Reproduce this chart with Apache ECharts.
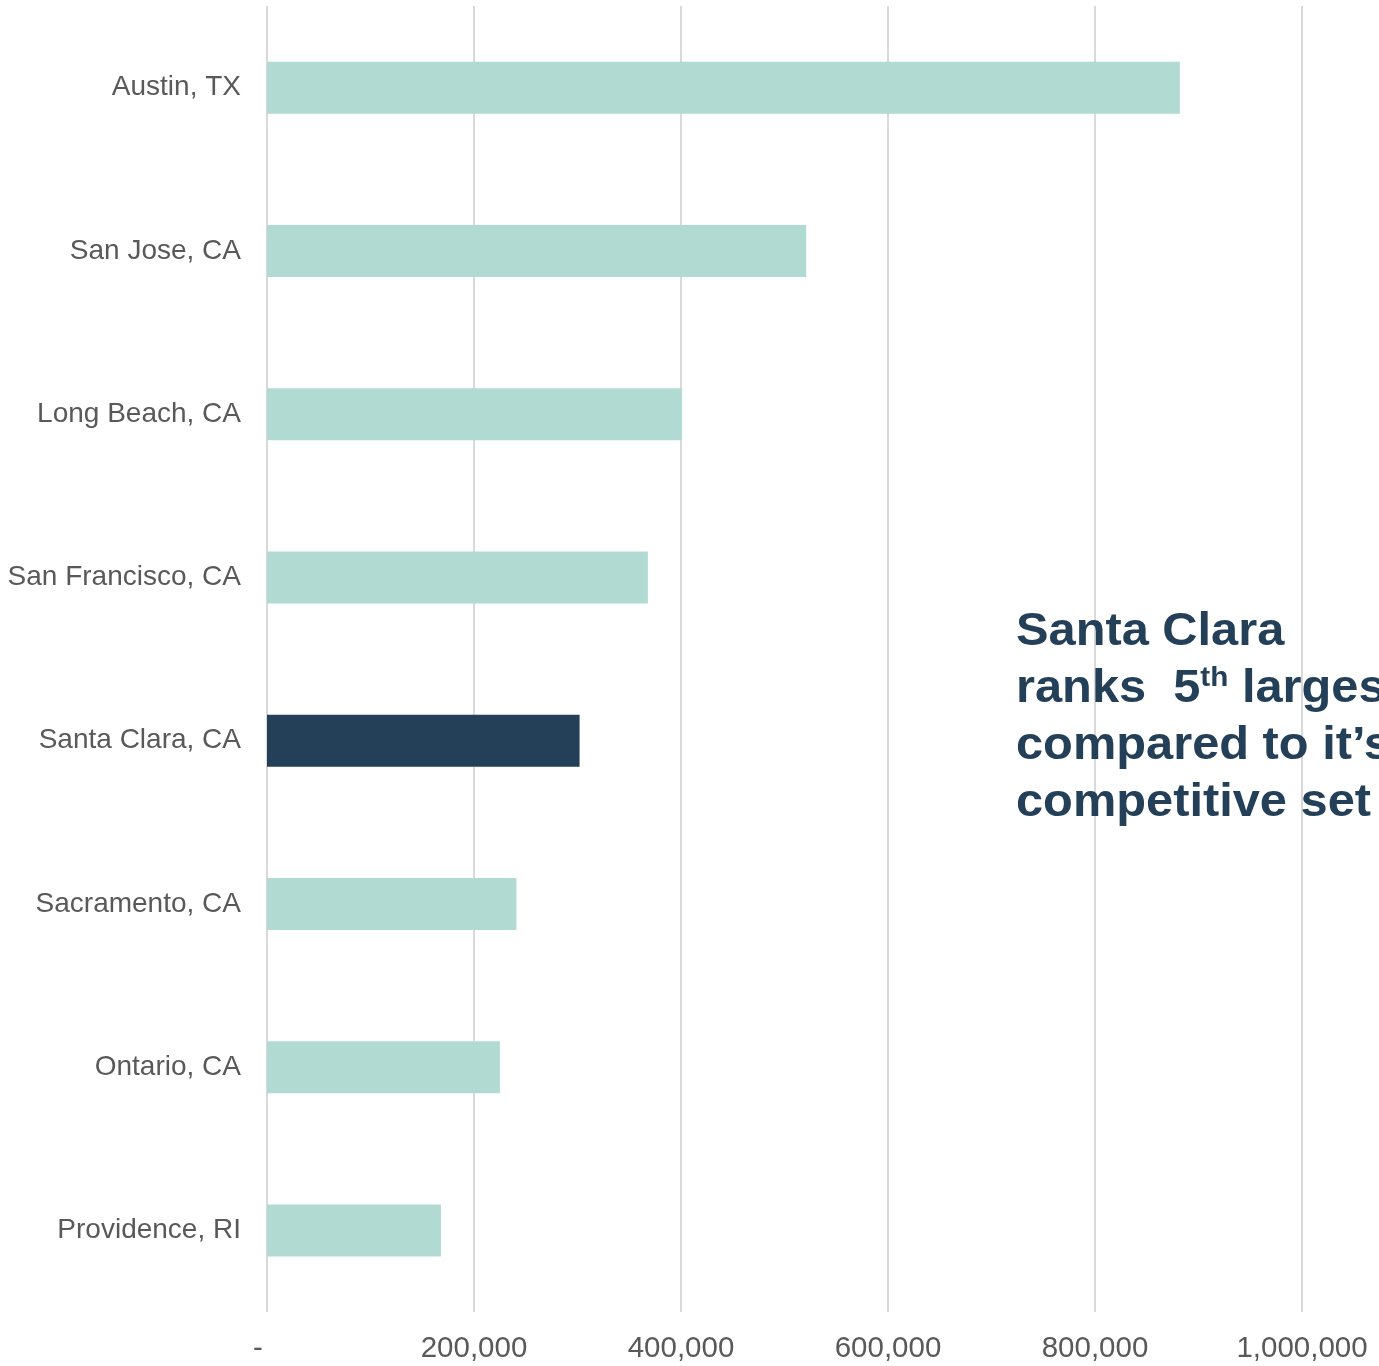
<!DOCTYPE html>
<html>
<head>
<meta charset="utf-8">
<script src="https://cdn.jsdelivr.net/npm/echarts@6/dist/echarts.min.js"></script>
<style>
  html, body { margin: 0; padding: 0; background: #ffffff; }
  #chart { width: 1379px; height: 1366px; }
</style>
</head>
<body>
<div id="chart"></div>
<script>
// Cities in the competitive set, largest first
const cities = ['Austin, TX', 'San Jose, CA', 'Long Beach, CA', 'San Francisco, CA',
                'Santa Clara, CA', 'Sacramento, CA', 'Ontario, CA', 'Providence, RI'];
const values = [882000, 521000, 401000, 368000, 302000, 241000, 225000, 168000];
const highlightCity = 'Santa Clara, CA';

// Value axis ticks
const axisMin = 0;
const axisMax = 1000000;
const axisStep = 200000;

const LIGHT = '#b1dad2';
const DARK = '#243f58';
const FONT = '"Liberation Sans", Arial, sans-serif';

// Measure text to place the superscript within the callout
const measureCtx = document.createElement('canvas').getContext('2d');
function textWidth(str, font) {
  measureCtx.font = font;
  return measureCtx.measureText(str).width;
}

const CALLOUT_SIZE = 46;
const SUP_SIZE = 28;
const STRETCH = 1.06;   // slightly widened callout lettering
const calloutFont = 'bold ' + CALLOUT_SIZE + 'px ' + FONT;
const supFont = 'bold ' + SUP_SIZE + 'px ' + FONT;
const calloutX = 1016;
const line2a = 'ranks  5';
const line2b = 'th';
const line2c = ' largest';
const wA = textWidth(line2a, calloutFont) * STRETCH;
const wB = textWidth(line2b, supFont) * STRETCH;

function calloutText(str, x, y, size) {
  return {
    type: 'text',
    x: x, y: y,
    scaleX: STRETCH,
    z: 100,
    silent: true,
    style: {
      text: str,
      fill: DARK,
      fontFamily: FONT,
      fontWeight: 'bold',
      fontSize: size,
      align: 'left',
      verticalAlign: 'middle'
    }
  };
}

const chart = echarts.init(document.getElementById('chart'), null, { renderer: 'canvas' });

chart.setOption({
  backgroundColor: '#ffffff',
  animation: false,
  grid: { left: 267, right: 77, top: 6, bottom: 54, containLabel: false },
  xAxis: {
    type: 'value',
    min: axisMin,
    max: axisMax,
    interval: axisStep,
    axisLine: { show: false },
    axisTick: { show: false },
    splitLine: { show: true, lineStyle: { color: '#d9d9d9', width: 2 } },
    axisLabel: {
      margin: 22,
      color: '#595959',
      fontFamily: FONT,
      fontSize: 29.5,
      formatter: function (v) {
        if (v === 0) return '{z|-}';
        return v.toLocaleString('en-US');
      },
      rich: {
        z: { color: '#595959', fontFamily: FONT, fontSize: 29.5, padding: [0, 18, 0, 0] }
      }
    }
  },
  yAxis: {
    type: 'category',
    data: cities,
    inverse: true,
    axisLine: { show: false },
    axisTick: { show: false },
    splitLine: { show: false },
    axisLabel: {
      margin: 26,
      color: '#595959',
      fontFamily: FONT,
      fontSize: 28,
      padding: [0, 0, 6, 0]
    }
  },
  series: [{
    type: 'bar',
    barWidth: 52,
    data: values.map(function (v, i) {
      return {
        value: v,
        itemStyle: { color: cities[i] === highlightCity ? DARK : LIGHT }
      };
    })
  }],
  graphic: [
    calloutText('Santa Clara', calloutX, 632, CALLOUT_SIZE),
    calloutText(line2a, calloutX, 689, CALLOUT_SIZE),
    calloutText(line2b, calloutX + wA, 678, SUP_SIZE),
    calloutText(line2c, calloutX + wA + wB, 689, CALLOUT_SIZE),
    calloutText('compared to it\u2019s', calloutX, 746, CALLOUT_SIZE),
    calloutText('competitive set', calloutX, 803, CALLOUT_SIZE)
  ]
});
</script>
</body>
</html>
